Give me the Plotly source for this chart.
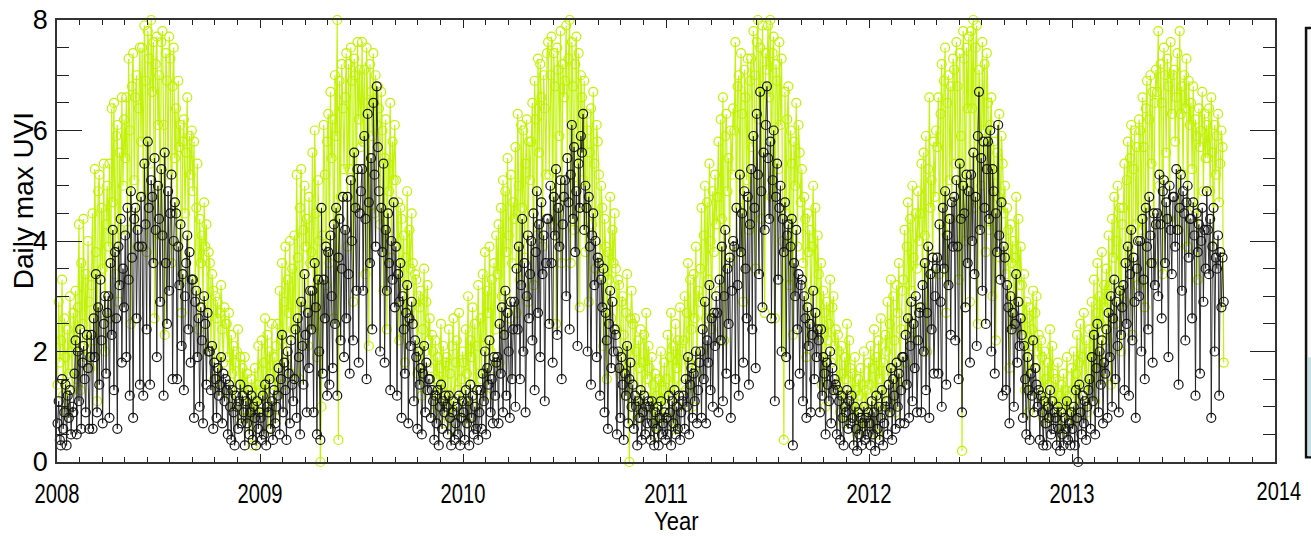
import plotly.graph_objects as go

# Daily maximum UV index, sampled every ~2 days (15 samples per month).
# Green: clear-sky UVI, black: measured UVI.
green_2008 = [
    1.4, 2.9, 1.8, 2.2, 3.3, 1.2, 2.6, 1.9, 0.9, 2.4, 1.6, 3.0, 2.0, 1.3, 2.7,
    2.1, 3.1, 1.5, 2.8, 4.3, 1.3, 3.6, 2.5, 4.4, 1.9, 3.4, 2.2, 4.0, 2.9, 1.7,
    3.2, 4.5, 2.2, 5.3, 3.8, 1.1, 4.9, 5.2, 2.7, 4.6, 3.5, 5.4, 2.0, 4.3, 5.0,
    3.9, 5.4, 2.6, 6.4, 4.7, 6.5, 3.4, 5.9, 6.1, 2.9, 5.6, 4.2, 6.6, 5.0, 6.2,
    5.5, 6.6, 4.2, 7.3, 6.0, 2.5, 6.8, 7.4, 5.1, 6.6, 7.0, 3.9, 6.4, 7.5, 5.8,
    7.5, 4.8, 7.9, 6.9, 3.8, 7.8, 7.3, 5.4, 8.0, 6.7, 7.6, 2.6, 7.2, 7.7, 6.1,
    7.0, 4.1, 7.6, 7.8, 6.1, 2.3, 7.4, 6.9, 5.2, 7.7, 7.3, 3.6, 6.8, 7.5, 5.5,
    6.4, 3.9, 6.9, 5.7, 6.1, 2.7, 5.8, 6.2, 4.5, 5.6, 6.6, 3.3, 5.9, 5.2, 6.0,
    4.9, 5.8, 3.1, 4.6, 5.4, 2.4, 4.4, 3.6, 4.1, 2.8, 4.7, 3.9, 4.3, 2.0, 3.8,
    3.6, 2.1, 3.4, 3.1, 1.5, 3.0, 2.6, 2.9, 1.3, 2.7, 3.2, 2.4, 1.8, 2.8, 2.5,
    2.5, 1.9, 2.7, 1.2, 2.3, 1.6, 2.1, 1.0, 1.8, 2.0, 2.4, 1.4, 1.9, 0.8, 1.7,
    1.4, 1.9, 0.8, 1.6, 1.3, 0.5, 1.2, 1.5, 0.3, 1.1, 1.7, 0.9, 1.4, 2.1, 1.0]
black_2008 = [
    0.7, 1.1, 0.4, 0.3, 1.5, 0.6, 0.9, 1.4, 0.3, 1.2, 0.8, 1.3, 0.5, 1.0, 0.9,
    1.6, 2.2, 0.5, 2.0, 1.1, 2.4, 0.6, 1.8, 2.1, 1.5, 0.9, 2.3, 1.7, 0.6, 1.9,
    2.3, 0.6, 2.6, 1.9, 3.4, 0.9, 2.8, 1.4, 3.3, 2.2, 0.7, 2.5, 3.0, 1.6, 2.7,
    3.0, 0.8, 3.6, 2.3, 4.2, 1.3, 3.8, 2.6, 0.6, 3.9, 3.2, 4.4, 1.8, 3.5, 2.8,
    4.1, 1.9, 4.6, 3.3, 1.2, 4.9, 3.7, 0.8, 4.4, 4.6, 2.6, 4.2, 3.9, 1.4, 4.8,
    3.9, 1.2, 5.4, 4.3, 2.4, 5.8, 4.6, 1.4, 5.1, 4.8, 3.6, 5.5, 4.2, 1.9, 5.0,
    4.4, 2.9, 5.3, 4.1, 1.2, 5.6, 3.6, 2.5, 4.9, 3.1, 4.5, 5.2, 1.5, 4.0, 4.7,
    4.5, 1.5, 3.9, 3.2, 4.3, 2.1, 3.4, 1.3, 3.0, 3.6, 4.1, 2.4, 3.8, 1.8, 3.3,
    3.3, 0.8, 2.9, 3.1, 1.9, 2.6, 1.0, 2.8, 2.2, 0.7, 3.0, 2.5, 1.4, 2.7, 2.0,
    2.0, 1.3, 2.1, 0.6, 1.8, 1.5, 0.8, 1.7, 1.2, 1.4, 1.9, 0.7, 1.6, 1.1, 1.5,
    1.3, 0.5, 1.4, 1.0, 0.4, 1.3, 0.9, 0.3, 1.2, 1.0, 0.6, 1.1, 1.4, 0.7, 1.2,
    0.9, 0.3, 1.1, 0.7, 1.3, 0.5, 0.9, 1.2, 0.4, 1.0, 0.8, 0.3, 1.1, 0.6, 0.9]

green_2009 = [
    1.3, 2.2, 0.9, 1.8, 2.6, 1.1, 2.3, 0.6, 2.0, 1.6, 2.5, 1.4, 1.9, 0.8, 2.1,
    2.5, 1.2, 3.1, 2.2, 3.6, 1.4, 2.9, 3.9, 1.8, 3.3, 2.7, 4.0, 1.6, 3.5, 2.4,
    4.1, 2.3, 5.2, 3.7, 1.5, 4.6, 5.3, 2.8, 4.2, 5.0, 3.9, 4.4, 2.1, 4.8, 3.6,
    3.8, 5.6, 2.4, 6.0, 4.5, 1.9, 5.1, 4.0, 0.0, 1.0, 4.1, 6.1, 5.2, 3.2, 5.8,
    6.3, 3.6, 6.7, 5.5, 6.2, 2.6, 7.0, 5.9, 8.0, 0.4, 6.9, 4.8, 7.2, 6.4, 5.3,
    6.6, 7.4, 3.9, 7.2, 5.3, 7.5, 6.9, 2.9, 7.3, 7.0, 4.6, 7.6, 6.2, 7.1, 5.7,
    7.6, 5.8, 7.1, 3.4, 7.5, 6.5, 2.1, 7.2, 6.7, 5.9, 7.4, 4.5, 7.0, 6.1, 6.8,
    6.4, 4.3, 6.7, 6.0, 3.1, 5.5, 6.2, 2.4, 5.4, 4.9, 6.5, 3.7, 5.8, 5.1, 6.1,
    5.1, 3.9, 4.7, 2.2, 4.6, 4.4, 3.2, 4.1, 1.8, 3.7, 4.9, 2.7, 4.2, 3.5, 4.5,
    3.6, 2.5, 3.4, 3.3, 1.6, 3.0, 2.8, 3.1, 1.2, 2.4, 3.5, 2.0, 2.9, 3.2, 2.2,
    2.6, 1.7, 2.3, 2.0, 0.9, 2.2, 1.5, 1.9, 1.1, 1.7, 2.5, 1.3, 2.1, 0.7, 1.8,
    1.9, 1.0, 2.4, 1.6, 0.6, 2.1, 2.6, 0.9, 1.8, 2.2, 1.3, 2.7, 0.8, 1.5, 2.0]
black_2009 = [
    0.8, 0.4, 1.2, 0.5, 1.4, 0.3, 1.0, 0.9, 1.5, 0.6, 1.1, 0.4, 1.3, 0.7, 1.0,
    1.2, 1.7, 0.5, 1.5, 2.3, 0.9, 1.8, 1.3, 0.4, 2.0, 1.6, 0.7, 2.2, 1.4, 1.1,
    1.5, 2.4, 0.8, 2.6, 1.9, 0.5, 2.9, 2.1, 1.4, 3.4, 2.3, 0.9, 2.7, 1.7, 3.1,
    2.4, 3.1, 0.9, 3.6, 2.8, 0.5, 3.3, 2.0, 0.4, 4.6, 1.6, 3.3, 2.6, 3.9, 1.2,
    3.8, 1.4, 4.1, 3.0, 1.7, 4.3, 2.5, 4.6, 1.2, 3.7, 4.4, 2.2, 3.5, 4.8, 1.9,
    4.2, 2.6, 4.8, 3.4, 1.6, 5.1, 4.0, 2.2, 5.6, 4.6, 3.1, 5.3, 1.8, 4.5, 4.9,
    5.3, 3.1, 5.9, 4.4, 1.5, 6.3, 4.7, 3.6, 5.5, 2.4, 6.5, 5.2, 3.9, 6.8, 5.7,
    4.9, 2.0, 4.6, 3.8, 5.4, 1.8, 4.2, 3.1, 4.5, 3.6, 1.3, 4.0, 3.3, 4.7, 2.8,
    3.9, 1.2, 3.4, 2.9, 3.6, 0.8, 3.0, 2.4, 1.6, 2.7, 3.2, 0.7, 2.6, 2.1, 2.9,
    2.5, 1.1, 2.2, 1.9, 0.6, 2.0, 1.4, 1.7, 0.5, 1.6, 2.1, 0.9, 1.8, 1.3, 1.5,
    1.5, 0.8, 1.3, 1.1, 0.4, 1.2, 0.7, 1.3, 0.3, 1.0, 1.4, 0.6, 1.1, 0.9, 1.2,
    1.0, 0.5, 1.2, 0.8, 0.3, 0.9, 1.1, 0.4, 0.7, 1.0, 0.5, 1.2, 0.3, 0.8, 1.1]

green_2010 = [
    1.8, 1.1, 2.4, 1.6, 3.0, 0.7, 2.2, 1.9, 2.8, 1.4, 2.5, 1.0, 2.1, 3.2, 1.6,
    2.6, 1.5, 3.4, 2.1, 3.8, 1.2, 3.1, 2.7, 3.9, 2.0, 3.3, 1.7, 3.6, 2.4, 4.1,
    3.4, 4.3, 1.8, 4.6, 3.0, 5.1, 2.3, 4.9, 3.8, 5.5, 4.1, 2.6, 5.2, 3.6, 4.7,
    4.4, 5.7, 2.7, 6.3, 5.0, 3.3, 6.1, 4.6, 6.0, 3.7, 5.4, 6.2, 2.9, 5.8, 5.1,
    5.8, 6.5, 3.2, 6.9, 6.2, 4.1, 7.3, 5.6, 7.2, 6.6, 3.9, 7.0, 6.4, 5.2, 7.4,
    7.6, 5.2, 7.0, 7.7, 4.3, 7.4, 6.8, 2.5, 7.5, 7.1, 5.9, 7.8, 3.6, 7.2, 6.6,
    6.9, 7.9, 5.5, 7.3, 8.0, 3.6, 7.6, 6.8, 4.2, 7.2, 7.7, 5.0, 7.4, 2.8, 7.0,
    6.6, 5.1, 6.9, 3.8, 6.3, 6.0, 2.9, 5.6, 6.4, 4.3, 6.7, 5.4, 3.5, 6.1, 5.8,
    5.2, 3.4, 5.0, 4.6, 2.1, 4.4, 3.9, 1.5, 3.8, 3.3, 4.8, 2.6, 4.2, 3.6, 4.5,
    3.5, 2.4, 3.3, 3.2, 1.6, 2.9, 3.0, 2.3, 1.2, 2.7, 3.4, 2.0, 0.0, 2.6, 3.1,
    2.5, 1.4, 2.6, 2.0, 0.8, 2.2, 1.7, 2.4, 1.0, 1.8, 2.3, 1.2, 2.7, 1.5, 2.1,
    1.7, 0.9, 1.9, 1.4, 0.5, 1.6, 1.2, 0.7, 1.5, 1.1, 2.0, 0.8, 1.3, 1.8, 1.0]
black_2010 = [
    0.9, 0.4, 1.3, 0.7, 1.1, 0.3, 1.4, 0.8, 1.2, 0.5, 1.0, 0.6, 1.3, 0.4, 0.9,
    1.3, 0.6, 1.6, 1.1, 2.0, 0.5, 1.7, 1.4, 2.2, 0.9, 1.5, 0.7, 1.9, 1.2, 1.8,
    1.9, 0.7, 2.5, 1.6, 2.8, 0.9, 2.3, 3.1, 1.2, 2.7, 2.0, 0.8, 2.9, 1.5, 2.4,
    2.9, 1.0, 3.5, 2.4, 3.9, 1.5, 3.2, 4.4, 2.0, 3.6, 0.9, 3.0, 4.1, 2.6, 3.4,
    4.0, 2.2, 4.5, 1.3, 3.8, 4.9, 2.7, 4.3, 1.9, 4.7, 3.4, 4.1, 1.1, 3.6, 4.4,
    4.4, 2.5, 5.0, 3.6, 1.8, 4.8, 4.1, 5.3, 2.3, 4.6, 3.9, 5.1, 1.5, 4.3, 4.8,
    5.1, 3.0, 5.5, 4.7, 2.4, 5.2, 6.1, 4.4, 5.7, 3.8, 4.9, 2.1, 5.4, 4.6, 5.9,
    5.6, 6.3, 4.2, 5.0, 4.6, 2.0, 4.8, 3.9, 1.4, 4.1, 4.5, 3.2, 4.0, 1.9, 3.7,
    3.6, 1.2, 3.3, 2.8, 3.5, 0.9, 2.7, 2.2, 0.6, 2.5, 3.1, 1.7, 2.9, 2.0, 2.4,
    2.3, 0.5, 2.0, 1.7, 0.8, 1.9, 1.4, 0.4, 1.6, 1.2, 2.1, 0.7, 1.5, 1.8, 1.0,
    1.4, 0.6, 1.2, 1.0, 0.3, 1.1, 0.8, 1.3, 0.4, 0.9, 1.2, 0.5, 1.0, 0.7, 1.1,
    1.0, 0.4, 1.1, 0.7, 0.3, 0.9, 0.6, 1.0, 0.3, 0.8, 1.1, 0.5, 0.7, 0.9, 0.4]

green_2011 = [
    1.5, 2.3, 0.8, 1.9, 2.7, 1.2, 2.1, 0.6, 2.5, 1.7, 2.2, 1.0, 2.8, 1.4, 2.0,
    2.2, 3.0, 1.3, 2.7, 3.6, 1.8, 3.3, 2.4, 1.0, 3.4, 2.6, 3.9, 1.6, 3.1, 2.9,
    3.5, 4.6, 2.0, 4.1, 5.0, 2.6, 4.7, 3.3, 5.4, 4.0, 2.4, 4.9, 3.8, 5.2, 4.3,
    4.8, 5.8, 3.1, 6.2, 4.4, 6.6, 2.2, 5.9, 6.3, 4.9, 5.5, 3.6, 6.0, 5.2, 6.4,
    6.0, 7.6, 3.8, 6.8, 7.0, 4.6, 7.4, 6.3, 2.9, 7.1, 6.6, 5.1, 7.3, 4.2, 6.9,
    7.3, 5.7, 7.8, 7.0, 3.5, 7.6, 8.0, 6.2, 7.5, 4.4, 7.9, 6.8, 2.7, 7.4, 7.1,
    7.9, 6.6, 8.0, 4.8, 7.4, 7.7, 2.6, 7.2, 6.9, 5.3, 7.6, 6.1, 7.3, 4.0, 0.4,
    6.7, 4.5, 6.2, 6.8, 3.2, 6.0, 5.4, 2.3, 5.8, 5.0, 6.5, 3.9, 6.1, 5.6, 4.7,
    5.3, 3.6, 4.8, 4.4, 1.9, 4.5, 3.8, 4.2, 2.6, 3.9, 5.0, 3.1, 4.6, 2.3, 4.1,
    3.4, 2.4, 3.6, 1.4, 3.1, 2.7, 1.0, 2.9, 2.2, 2.5, 3.3, 1.8, 2.8, 3.0, 2.1,
    2.4, 1.3, 2.3, 2.0, 0.9, 2.1, 1.6, 0.7, 1.9, 1.5, 2.5, 1.2, 2.2, 1.7, 1.0,
    1.6, 0.8, 1.9, 1.3, 0.5, 1.5, 1.2, 1.7, 0.6, 1.4, 2.0, 1.0, 1.3, 0.7, 1.8]
black_2011 = [
    0.8, 0.5, 1.2, 0.9, 0.3, 1.1, 0.7, 1.3, 0.5, 1.0, 0.6, 1.2, 0.4, 0.9, 1.1,
    1.2, 0.6, 1.5, 1.0, 1.9, 0.5, 1.4, 1.7, 0.8, 1.6, 1.1, 2.0, 0.7, 1.3, 1.8,
    2.0, 0.8, 2.4, 1.5, 2.9, 0.7, 2.2, 1.8, 3.2, 1.3, 2.6, 1.0, 2.7, 2.1, 3.0,
    2.7, 0.9, 3.3, 2.2, 3.9, 1.1, 3.0, 4.2, 1.6, 3.5, 2.5, 3.7, 0.8, 3.1, 4.0,
    3.9, 1.5, 4.6, 3.2, 1.2, 5.2, 3.8, 4.5, 1.8, 4.9, 3.5, 2.6, 4.8, 1.4, 4.3,
    5.3, 2.4, 5.9, 4.6, 1.7, 6.3, 5.2, 3.4, 6.7, 4.9, 2.8, 5.6, 4.2, 6.1, 6.8,
    5.5, 4.4, 5.8, 2.6, 5.1, 6.0, 1.1, 4.8, 5.4, 3.3, 4.6, 5.0, 2.0, 4.4, 3.8,
    4.7, 1.9, 4.1, 4.3, 1.4, 3.9, 4.4, 0.3, 3.6, 3.0, 4.2, 2.4, 3.4, 1.6, 3.2,
    3.3, 1.1, 3.0, 2.6, 0.8, 2.8, 2.1, 2.5, 0.9, 2.3, 3.1, 1.5, 2.7, 1.9, 2.4,
    2.2, 0.9, 2.4, 1.2, 1.9, 1.6, 0.5, 1.8, 1.4, 1.1, 2.0, 0.7, 1.7, 1.3, 1.5,
    1.4, 0.5, 1.3, 1.1, 0.4, 1.2, 0.8, 0.3, 1.0, 0.9, 1.3, 0.6, 1.1, 0.7, 1.2,
    0.8, 0.3, 1.0, 0.6, 0.2, 0.9, 0.5, 0.8, 0.3, 0.7, 1.0, 0.4, 0.8, 0.5, 0.9]

green_2012 = [
    1.4, 2.1, 0.7, 1.7, 2.4, 1.0, 1.9, 0.5, 2.2, 1.5, 2.6, 1.2, 1.8, 0.9, 2.3,
    2.0, 2.9, 1.1, 2.5, 3.3, 1.6, 3.0, 2.2, 0.9, 3.2, 2.7, 3.6, 1.4, 2.4, 3.1,
    3.3, 4.2, 1.8, 3.9, 4.7, 2.4, 4.4, 3.1, 5.0, 3.7, 2.2, 4.5, 3.5, 4.9, 4.0,
    4.5, 5.4, 2.8, 5.6, 4.1, 5.9, 2.0, 5.3, 6.6, 4.6, 5.1, 3.4, 5.8, 4.8, 6.0,
    5.7, 6.6, 3.4, 6.3, 7.2, 4.2, 6.9, 7.5, 2.7, 6.5, 7.0, 5.1, 6.8, 4.4, 7.3,
    7.1, 5.4, 7.6, 6.8, 3.3, 7.4, 5.9, 0.2, 7.8, 7.3, 4.0, 7.5, 6.4, 7.7, 2.9,
    7.8, 6.4, 8.0, 4.6, 7.5, 7.9, 2.5, 7.1, 6.7, 5.0, 7.6, 6.0, 7.2, 3.8, 7.4,
    6.5, 4.2, 6.1, 6.6, 3.0, 5.8, 5.2, 2.2, 5.6, 4.8, 6.3, 3.7, 5.9, 5.4, 4.5,
    5.0, 3.4, 4.6, 4.2, 1.7, 4.3, 3.6, 4.0, 2.4, 3.7, 4.8, 2.9, 4.4, 3.2, 3.9,
    3.2, 2.3, 3.4, 1.3, 2.9, 2.6, 0.9, 2.8, 2.1, 2.4, 3.1, 1.7, 2.7, 3.0, 2.0,
    2.3, 1.2, 2.2, 1.9, 0.8, 2.0, 1.5, 0.7, 1.8, 1.4, 2.4, 1.1, 2.1, 1.6, 1.0,
    1.5, 0.8, 1.8, 1.2, 0.5, 1.4, 1.1, 1.6, 0.6, 1.3, 1.9, 0.9, 1.2, 0.7, 1.7]
black_2012 = [
    0.7, 0.3, 1.1, 0.5, 0.9, 0.2, 1.2, 0.6, 1.0, 0.4, 0.8, 1.3, 0.3, 0.7, 1.0,
    1.1, 0.5, 1.4, 0.9, 1.7, 0.4, 1.5, 1.2, 0.6, 1.8, 1.0, 1.6, 0.7, 1.3, 1.9,
    1.9, 0.7, 2.3, 1.4, 2.6, 0.8, 2.1, 2.9, 1.1, 2.5, 1.7, 3.0, 0.9, 2.2, 2.7,
    2.8, 0.9, 3.2, 2.0, 3.6, 1.3, 2.7, 3.9, 0.8, 3.4, 2.4, 3.7, 1.6, 3.0, 3.5,
    3.7, 1.6, 4.3, 2.9, 1.0, 4.6, 3.5, 4.9, 1.4, 4.1, 3.2, 4.4, 2.3, 4.7, 3.9,
    4.8, 2.2, 5.1, 3.9, 1.5, 5.4, 4.4, 0.9, 5.0, 4.5, 2.8, 5.2, 3.6, 4.9, 1.8,
    5.2, 4.0, 5.6, 3.4, 4.8, 2.1, 5.9, 6.7, 4.2, 5.5, 3.1, 5.8, 4.6, 2.5, 5.3,
    5.8, 4.4, 6.0, 2.0, 5.3, 4.9, 1.6, 4.5, 3.8, 6.1, 4.1, 3.3, 4.7, 1.2, 3.9,
    3.7, 1.3, 3.2, 2.8, 0.7, 3.0, 2.4, 2.7, 1.0, 2.5, 3.4, 1.8, 2.9, 2.1, 2.6,
    2.3, 0.8, 2.1, 1.5, 0.5, 1.9, 1.3, 0.4, 1.6, 1.2, 2.2, 0.9, 1.7, 1.4, 1.0,
    1.3, 0.4, 1.2, 0.9, 0.3, 1.1, 0.7, 0.3, 1.0, 0.8, 1.3, 0.5, 1.1, 0.6, 0.9,
    0.8, 0.3, 1.0, 0.6, 0.2, 0.9, 0.5, 0.3, 0.8, 0.6, 1.1, 0.4, 0.7, 0.3, 0.9]

green_2013 = [
    1.3, 2.0, 0.8, 1.6, 2.3, 1.0, 1.8, 2.5, 1.2, 1.9, 2.7, 1.4, 2.2, 0.9, 2.0,
    2.4, 1.4, 2.9, 1.9, 3.3, 1.1, 2.7, 3.6, 1.7, 3.0, 2.5, 3.8, 1.5, 3.2, 2.8,
    3.5, 2.2, 4.1, 3.2, 1.4, 4.4, 3.7, 4.8, 2.5, 4.0, 5.0, 3.0, 4.6, 2.0, 4.3,
    4.6, 5.4, 2.9, 5.1, 5.8, 3.6, 5.5, 6.1, 2.3, 5.3, 6.0, 4.3, 5.7, 3.2, 6.2,
    6.0, 4.2, 6.6, 5.7, 2.8, 6.4, 6.9, 4.5, 6.2, 7.0, 5.4, 6.7, 3.6, 6.5, 7.1,
    6.7, 7.8, 5.0, 7.2, 6.5, 3.4, 7.5, 7.0, 5.6, 7.3, 6.8, 4.4, 7.6, 6.3, 7.0,
    7.1, 5.8, 6.6, 7.4, 4.2, 7.8, 6.3, 6.8, 5.2, 7.0, 6.4, 7.3, 3.9, 6.9, 6.1,
    6.5, 5.3, 6.8, 4.6, 6.2, 5.9, 3.3, 6.4, 5.7, 6.0, 6.7, 4.9, 6.3, 5.5, 6.1,
    5.5, 6.4, 4.9, 6.6, 5.6, 3.9, 6.1, 5.2, 5.9, 6.3, 4.7, 5.4, 6.0, 5.7, 1.8]
black_2013 = [
    0.6, 1.0, 0.3, 1.3, 0.8, 0.0, 1.4, 0.9, 0.5, 1.2, 0.7, 1.1, 0.4, 1.0, 1.3,
    1.5, 0.6, 1.9, 1.1, 2.3, 0.5, 1.7, 2.5, 0.9, 2.0, 1.4, 2.2, 0.7, 1.8, 1.6,
    2.4, 0.8, 2.7, 1.9, 3.0, 1.0, 2.6, 3.3, 1.5, 2.9, 2.1, 0.9, 3.1, 2.3, 2.8,
    3.2, 1.3, 3.6, 2.5, 3.9, 1.2, 3.4, 4.2, 2.2, 3.7, 2.9, 0.8, 3.5, 4.0, 3.0,
    4.0, 2.0, 4.4, 3.3, 1.5, 4.6, 3.9, 2.4, 4.8, 4.1, 3.6, 1.8, 4.5, 3.2, 4.3,
    4.5, 3.0, 5.2, 4.3, 2.6, 4.9, 5.1, 3.6, 4.7, 4.4, 1.9, 5.0, 4.2, 3.4, 4.8,
    4.8, 3.9, 5.3, 4.2, 1.4, 4.6, 5.2, 3.1, 4.9, 4.5, 2.2, 4.7, 5.0, 3.7, 4.4,
    4.4, 2.6, 4.7, 4.1, 1.2, 4.5, 3.8, 4.3, 1.6, 4.0, 4.6, 2.9, 4.2, 3.5, 4.9,
    4.2, 3.4, 4.4, 0.8, 3.9, 4.6, 2.0, 3.7, 3.5, 4.1, 1.2, 3.8, 2.8, 3.7, 2.9]

years = [2008, 2009, 2010, 2011, 2012, 2013]
green_by_year = [green_2008, green_2009, green_2010, green_2011, green_2012, green_2013]
black_by_year = [black_2008, black_2009, black_2010, black_2011, black_2012, black_2013]

year_ticks = [2008, 2009, 2010, 2011, 2012, 2013]
year_labels = ["2008", "2009", "2010", "2011", "2012", "2013"]
uvi_ticks = [0, 2, 4, 6, 8]
uvi_labels = ["0", "2", "4", "6", "8"]

SAMPLES_PER_YEAR = 180


def to_decimal_year(year, values):
    """Place each sample in the middle of its slot within the year."""
    return [year + (i + 0.5) / SAMPLES_PER_YEAR for i in range(len(values))]


def stack(by_year):
    xs, ys = [], []
    for yr, vals in zip(years, by_year):
        xs += to_decimal_year(yr, vals)
        ys += vals
    return xs, ys


gx, gy = stack(green_by_year)
bx, by = stack(black_by_year)

GREEN = "rgb(192,242,0)"
BLACK = "rgb(20,20,20)"
LABEL_FONT = dict(family="Liberation Sans, Arial, sans-serif", size=28, color="black")
YEAR_FONT = dict(family="Liberation Sans, Arial, sans-serif", size=25, color="black")
EDGE_FONT = dict(family="Liberation Sans, Arial, sans-serif", size=25, color="black")
YTICK_FONT = dict(family="Liberation Sans, Arial, sans-serif", size=27, color="black")

fig = go.Figure()
fig.add_trace(go.Scatter(
    x=gx, y=gy, mode="lines+markers", cliponaxis=False,
    line=dict(color="rgba(192,242,0,0.95)", width=1.2),
    marker=dict(symbol="circle-open", size=9, color=GREEN, line=dict(width=1.2, color=GREEN)),
    showlegend=False, hoverinfo="skip"))
fig.add_trace(go.Scatter(
    x=bx, y=by, mode="lines+markers", cliponaxis=False,
    line=dict(color="rgba(30,30,30,0.9)", width=1),
    marker=dict(symbol="circle-open", size=9, color=BLACK, line=dict(width=1.2, color=BLACK)),
    showlegend=False, hoverinfo="skip"))

# Edge of the neighbouring panel on the right
fig.add_shape(type="rect", xref="paper", yref="paper",
              x0=1.0255, x1=1.06, y0=0.011, y1=0.982,
              line=dict(color="#111", width=2.5), fillcolor="rgb(250,250,250)", layer="above")
fig.add_shape(type="rect", xref="paper", yref="paper",
              x0=1.027, x1=1.06, y0=0.013, y1=0.237,
              line=dict(width=0), fillcolor="rgb(196,224,230)", layer="above")

fig.add_annotation(text="Daily max UVI", xref="paper", yref="paper",
                   x=-0.028, y=0.592, textangle=-90, showarrow=False,
                   xanchor="center", yanchor="middle", font=LABEL_FONT)
fig.add_annotation(text="Year", xref="paper", yref="paper",
                   x=(676 - 57) / 1218, y=-0.1346, showarrow=False,
                   xanchor="center", yanchor="middle", font=YEAR_FONT)
fig.add_annotation(text="2014", xref="paper", yref="paper",
                   x=(1279 - 57) / 1218, y=0.0, showarrow=False,
                   xanchor="center", yanchor="top", yshift=-13, font=EDGE_FONT)

axis_common = dict(showline=True, linecolor="#333", linewidth=1.5, mirror="allticks",
                   ticks="inside", tickcolor="#222", tickwidth=1.3,
                   showgrid=False, zeroline=False)

fig.update_xaxes(range=[2008, 2014], tickvals=year_ticks, ticktext=year_labels,
                 ticklen=8, ticklabelstandoff=6, tickfont=LABEL_FONT,
                 minor=dict(dtick=1 / 9, tick0=2008, ticks="inside", ticklen=5,
                            tickcolor="#222", tickwidth=1.2, showgrid=False),
                 **axis_common)
fig.update_yaxes(range=[0, 8], tickvals=uvi_ticks, ticktext=uvi_labels,
                 ticklen=25, ticklabelstandoff=2, tickfont=YTICK_FONT,
                 minor=dict(dtick=0.5, tick0=0, ticks="inside", ticklen=12,
                            tickcolor="#222", tickwidth=1.2, showgrid=False),
                 **axis_common)

fig.update_layout(width=1311, height=538,
                  margin=dict(l=57, r=36, t=20, b=76, autoexpand=False),
                  plot_bgcolor="white", paper_bgcolor="white")

# Year labels use a condensed face: squeeze the glyphs horizontally.
condense_js = """
var gd = document.getElementById('{plot_id}');
function condense() {
  gd.querySelectorAll('text').forEach(function (t) {
    var s = (t.textContent || '').trim();
    var f = null;
    if (s === '2014') { f = 0.8; }
    else if (/^\\d{4}$/.test(s)) { f = 0.72; }
    else if (s === 'Year') { f = 0.88; }
    if (f === null || t.getAttribute('data-cond') === '1') { return; }
    var w = t.getComputedTextLength();
    if (!w) { return; }
    t.setAttribute('textLength', (w * f).toFixed(1));
    t.setAttribute('lengthAdjust', 'spacingAndGlyphs');
    t.setAttribute('data-cond', '1');
  });
}
condense();
setTimeout(condense, 50);
setTimeout(condense, 400);
if (gd.on) { gd.on('plotly_afterplot', condense); }
"""

fig.write_html("out.html", post_script=condense_js)
